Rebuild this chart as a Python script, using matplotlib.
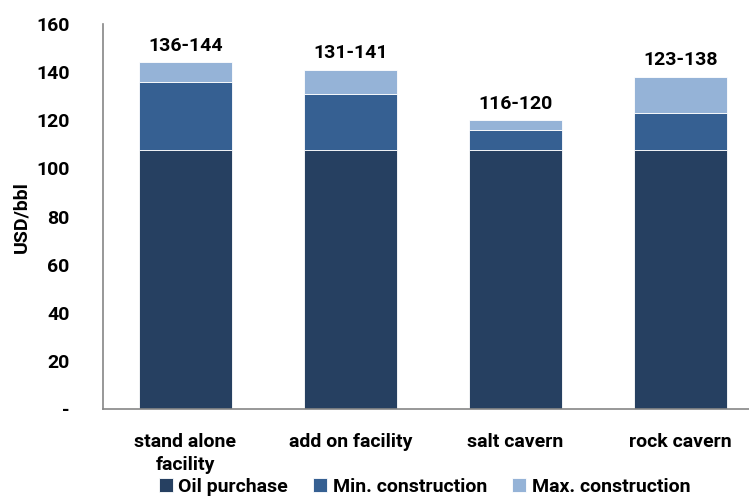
import matplotlib.pyplot as plt
import numpy as np

categories = ['stand alone\nfacility', 'add on facility', 'salt cavern', 'rock cavern']
oil_purchase = [107.5, 107.5, 107.5, 107.5]
min_total = [136, 131, 116, 123]
max_total = [144, 141, 120, 138]
labels = ['136-144', '131-141', '116-120', '123-138']
y_ticks = [0, 20, 40, 60, 80, 100, 120, 140, 160]
y_tick_labels = ['-', '20', '40', '60', '80', '100', '120', '140', '160']

c_oil = '#264061'
c_min = '#366092'
c_max = '#95b3d7'

plt.rcParams['font.family'] = ['Roboto', 'DejaVu Sans']
plt.rcParams['font.weight'] = 'bold'
fs = 14

fig = plt.figure(figsize=(7.49, 4.99), dpi=100)
ax = fig.add_axes([0.1375, 0.180, 0.8625, 0.772])

x = np.arange(len(categories))
w = 0.567
min_part = np.array(min_total) - np.array(oil_purchase)
max_part = np.array(max_total) - np.array(min_total)

ax.bar(x, oil_purchase, w, color=c_oil, edgecolor='white', linewidth=0.6, label='Oil purchase')
ax.bar(x, min_part, w, bottom=oil_purchase, color=c_min, edgecolor='white', linewidth=0.6,
       label='Min. construction')
ax.bar(x, max_part, w, bottom=min_total, color=c_max, edgecolor='white', linewidth=0.6,
       label='Max. construction')

for xi, top, lab in zip(x, max_total, labels):
    ax.text(xi, top + 3.2, lab, ha='center', va='bottom', fontsize=fs, fontweight='bold')

ax.set_xlim(-0.5, 3.415)
ax.set_ylim(0, 160)
ax.set_yticks(y_ticks)
ax.set_yticklabels(y_tick_labels, fontsize=fs, fontweight='bold')
ax.set_xticks(x)
ax.set_xticklabels(categories, fontsize=fs, fontweight='bold', linespacing=1.4)
ax.tick_params(axis='y', length=0, pad=24)
ax.tick_params(axis='x', length=0, pad=17)
ax.set_ylabel('USD/bbl', fontsize=fs, fontweight='bold', labelpad=4)

for s in ['top', 'right']:
    ax.spines[s].set_visible(False)
for s in ['left', 'bottom']:
    ax.spines[s].set_color('#868686')
    ax.spines[s].set_linewidth(1.2)

fig.legend(loc='center', bbox_to_anchor=(0.567, 0.024), ncol=3, frameon=False,
           handlelength=0.7, handleheight=0.7, handletextpad=0.3,
           columnspacing=1.3, prop={'weight': 'bold', 'size': fs})

fig.savefig('out.png', dpi=100)
